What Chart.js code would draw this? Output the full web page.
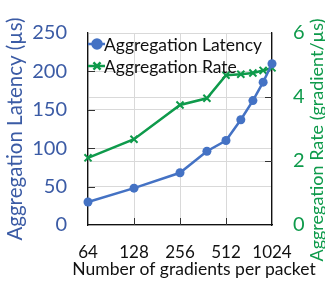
<!DOCTYPE html>
<html>
<head>
<meta charset="utf-8">
<script src="https://cdn.jsdelivr.net/npm/chart.js@4/dist/chart.umd.min.js"></script>
<style>
  html, body { margin: 0; padding: 0; background: #fff; }
  #wrap { width: 325px; height: 283px; }
</style>
</head>
<body>
<div id="wrap"><canvas id="chart"></canvas></div>
<script>
const GRADIENTS = [64, 128, 256, 384, 512, 640, 768, 896, 1024];
const LATENCY = [30, 48, 68, 96, 110, 137, 162, 186, 210];
const RATE = [2.1, 2.68, 3.75, 3.96, 4.68, 4.71, 4.75, 4.83, 4.91];
const X_TICKS = [64, 128, 256, 512, 1024];
const LEFT_TICKS = [0, 50, 100, 150, 200, 250];
const RIGHT_TICKS = [0, 2, 4, 6];

const BLUE = '#4472C4';
const BLUE_TEXT = '#3B5BA5';
const GREEN = '#0E9A4B';
const FONT = 'Lato';

// inward tick marks, like the office-style chart
const tickMarks = {
  id: 'tickMarks',
  afterDatasetsDraw(chart) {
    const { ctx, chartArea: a, scales } = chart;
    ctx.save();
    ctx.strokeStyle = '#333';
    ctx.lineWidth = 1;
    ctx.beginPath();
    LEFT_TICKS.slice(1, -1).forEach((v) => {
      const y = Math.round(scales.y.getPixelForValue(v)) + 0.5;
      ctx.moveTo(a.left, y); ctx.lineTo(a.left + 7, y);
    });
    RIGHT_TICKS.slice(1, -1).forEach((v) => {
      const y = Math.round(scales.y1.getPixelForValue(v)) + 0.5;
      ctx.moveTo(a.right, y); ctx.lineTo(a.right - 7, y);
    });
    X_TICKS.slice(1, -1).forEach((v) => {
      const x = Math.round(scales.x.getPixelForValue(v)) + 0.5;
      ctx.moveTo(x, a.bottom); ctx.lineTo(x, a.bottom - 7);
    });
    ctx.stroke();
    ctx.restore();
  },
};

// legend drawn inside the plot, top-left
const innerLegend = {
  id: 'innerLegend',
  afterDraw(chart) {
    const { ctx, chartArea: a } = chart;
    ctx.save();
    chart.data.datasets.forEach((ds, i) => {
      const y = a.top + 11 + i * 22;
      ctx.strokeStyle = ds.borderColor;
      ctx.lineWidth = ds.borderWidth;
      ctx.beginPath();
      ctx.moveTo(a.left, y); ctx.lineTo(a.left + 17, y);
      ctx.stroke();
      Chart.helpers.drawPoint(ctx, {
        pointStyle: ds.pointStyle, radius: ds.pointRadius, borderWidth: ds.pointBorderWidth || 1,
      }, a.left + 9, y);
      ctx.fillStyle = '#111';
      ctx.font = `17.5px ${FONT}`;
      ctx.textBaseline = 'middle';
      ctx.fillText(ds.label, a.left + 16, y + 1);
    });
    ctx.restore();
  },
};

// axis titles that sit outside the plot width / read bottom-to-top
const outerTitles = {
  id: 'outerTitles',
  afterDraw(chart) {
    const { ctx, chartArea: a } = chart;
    ctx.save();
    ctx.textAlign = 'center';
    ctx.textBaseline = 'middle';
    ctx.fillStyle = '#111';
    ctx.font = `17.5px ${FONT}`;
    ctx.fillText('Number of gradients per packet', 194, 269);

    ctx.translate(317, (a.top + a.bottom) / 2 + 11);
    ctx.rotate(-Math.PI / 2);
    ctx.fillStyle = GREEN;
    ctx.font = `18px ${FONT}`;
    ctx.fillText('Aggregation Rate (gradient/µs)', 0, 0);
    ctx.restore();
  },
};

const ctx = document.getElementById('chart').getContext('2d');
new Chart(ctx, {
  type: 'line',
  data: {
    labels: GRADIENTS,
    datasets: [
      {
        label: 'Aggregation Latency',
        data: GRADIENTS.map((g, i) => ({ x: g, y: LATENCY[i] })),
        yAxisID: 'y',
        borderColor: BLUE,
        backgroundColor: BLUE,
        borderWidth: 2.5,
        pointStyle: 'circle',
        pointRadius: 4.5,
        pointBorderWidth: 0,
        clip: false,
      },
      {
        label: 'Aggregation Rate',
        data: GRADIENTS.map((g, i) => ({ x: g, y: RATE[i] })),
        yAxisID: 'y1',
        borderColor: GREEN,
        backgroundColor: GREEN,
        borderWidth: 2.5,
        pointStyle: 'crossRot',
        pointRadius: 5,
        pointBorderWidth: 2,
        clip: false,
      },
    ],
  },
  options: {
    responsive: true,
    maintainAspectRatio: false,
    animation: false,
    layout: { padding: { top: 20, left: 0, right: 0, bottom: 0 } },
    plugins: { legend: { display: false }, tooltip: { enabled: false } },
    scales: {
      x: {
        type: 'logarithmic',
        min: 64,
        max: 1024,
        afterBuildTicks: (s) => { s.ticks = X_TICKS.map((v) => ({ value: v })); },
        afterFit: (s) => { s.height = 58; },
        ticks: {
          autoSkip: false, maxRotation: 0, padding: 17,
          color: '#111', font: { family: FONT, size: 17 },
          callback: (v) => String(v),
        },
        grid: { color: '#d9d9d9', drawTicks: false },
        border: { color: '#111', width: 1.3 },
      },
      y: {
        position: 'left',
        min: 0,
        max: 250,
        afterBuildTicks: (s) => { s.ticks = LEFT_TICKS.map((v) => ({ value: v })); },
        afterFit: (s) => { s.width = 88; },
        ticks: { padding: 21, color: BLUE_TEXT, font: { family: FONT, size: 20 } },
        grid: { color: '#d9d9d9', drawTicks: false },
        border: { color: '#111', width: 1.3 },
        title: {
          display: true, text: 'Aggregation Latency (µs)',
          color: BLUE_TEXT, font: { family: FONT, size: 20.5 }, padding: { top: 3, bottom: 0 },
        },
      },
      y1: {
        position: 'right',
        min: 0,
        max: 6,
        afterBuildTicks: (s) => { s.ticks = RIGHT_TICKS.map((v) => ({ value: v })); },
        afterFit: (s) => { s.width = 53; },
        ticks: { padding: 21, color: GREEN, font: { family: FONT, size: 20 } },
        grid: { color: '#d9d9d9', drawTicks: false },
        border: { color: '#111', width: 1.3 },
      },
    },
  },
  plugins: [tickMarks, innerLegend, outerTitles],
});
</script>
</body>
</html>
